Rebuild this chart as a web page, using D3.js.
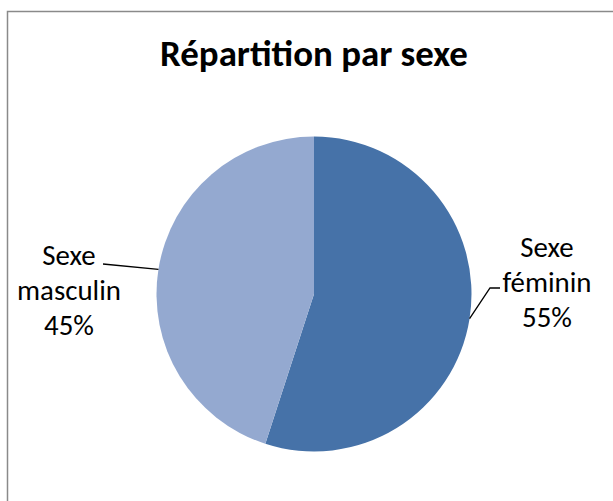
<!DOCTYPE html>
<html>
<head>
<meta charset="utf-8">
<script src="https://cdn.jsdelivr.net/npm/d3@7"></script>
<style>
  html, body { margin: 0; padding: 0; background: #fff; }
  svg { display: block; }
</style>
</head>
<body>
<svg id="chart"></svg>
<script>
const width = 613;
const height = 501;

// data
const categories = ["Sexe féminin", "Sexe masculin"];
const values = [55, 45];
const labelLines = [["Sexe", "féminin", "55%"], ["Sexe", "masculin", "45%"]];
const colors = ["#4672a8", "#94a9d0"];

const font = "Carlito, Calibri, 'Open Sans', sans-serif";

const svg = d3.select("#chart")
  .attr("width", width)
  .attr("height", height);

// chart frame (runs off the right and bottom of the picture)
svg.append("rect")
  .attr("x", 7.5)
  .attr("y", 11.5)
  .attr("width", 700)
  .attr("height", 600)
  .attr("fill", "#fff")
  .attr("stroke", "#8a8a8a")
  .attr("stroke-width", 1.5);

const title = svg.append("text")
  .attr("x", 314)
  .attr("y", 66)
  .attr("text-anchor", "middle")
  .attr("font-family", font)
  .attr("font-weight", "bold")
  .attr("font-size", 25)
  .text("Répartition par sexe");

// fit title width to the reference (~308px)
const tw = title.node().getComputedTextLength();
title.attr("font-size", 25 * 308 / tw);

// label font size: "masculin" is ~104px wide in the reference
const probe = svg.append("text")
  .attr("font-family", font)
  .attr("font-size", 22)
  .text("masculin");
const labelSize = 22 * 104 / probe.node().getComputedTextLength();
probe.remove();

const cx = 314, cy = 294, r = 157.5;

const data = categories.map((c, i) => ({ name: c, value: values[i], lines: labelLines[i], color: colors[i] }));

const pie = d3.pie().sort(null).value(d => d.value);
const arc = d3.arc().innerRadius(0).outerRadius(r);

const g = svg.append("g").attr("transform", `translate(${cx},${cy})`);

const arcs = pie(data);

g.selectAll("path")
  .data(arcs)
  .join("path")
  .attr("d", arc)
  .attr("fill", d => d.data.color);

// label placement (relative to pie centre); y is the middle line's baseline
const labelPos = [
  { x: 233, y: -2, path: [[176, -6], [186, -6]] },
  { x: -245, y: 6, path: [[-211, -30]] }
];

const midPoint = d => {
  const a = (d.startAngle + d.endAngle) / 2;
  return [r * Math.sin(a), -r * Math.cos(a)];
};

g.selectAll("path.leader")
  .data(arcs)
  .join("path")
  .attr("class", "leader")
  .attr("fill", "none")
  .attr("stroke", "#000")
  .attr("stroke-width", 1.3)
  .attr("d", (d, i) => d3.line()([midPoint(d), ...labelPos[i].path]));

const lineH = 35;

const labels = g.selectAll("text.lbl")
  .data(arcs)
  .join("text")
  .attr("class", "lbl")
  .attr("text-anchor", "middle")
  .attr("font-family", font)
  .attr("font-size", labelSize)
  .attr("fill", "#000");

labels.each(function(d, i) {
  const t = d3.select(this);
  d.data.lines.forEach((s, k) => {
    t.append("tspan")
      .attr("x", labelPos[i].x)
      .attr("y", labelPos[i].y + (k - 1) * lineH)
      .text(s);
  });
});
</script>
</body>
</html>
